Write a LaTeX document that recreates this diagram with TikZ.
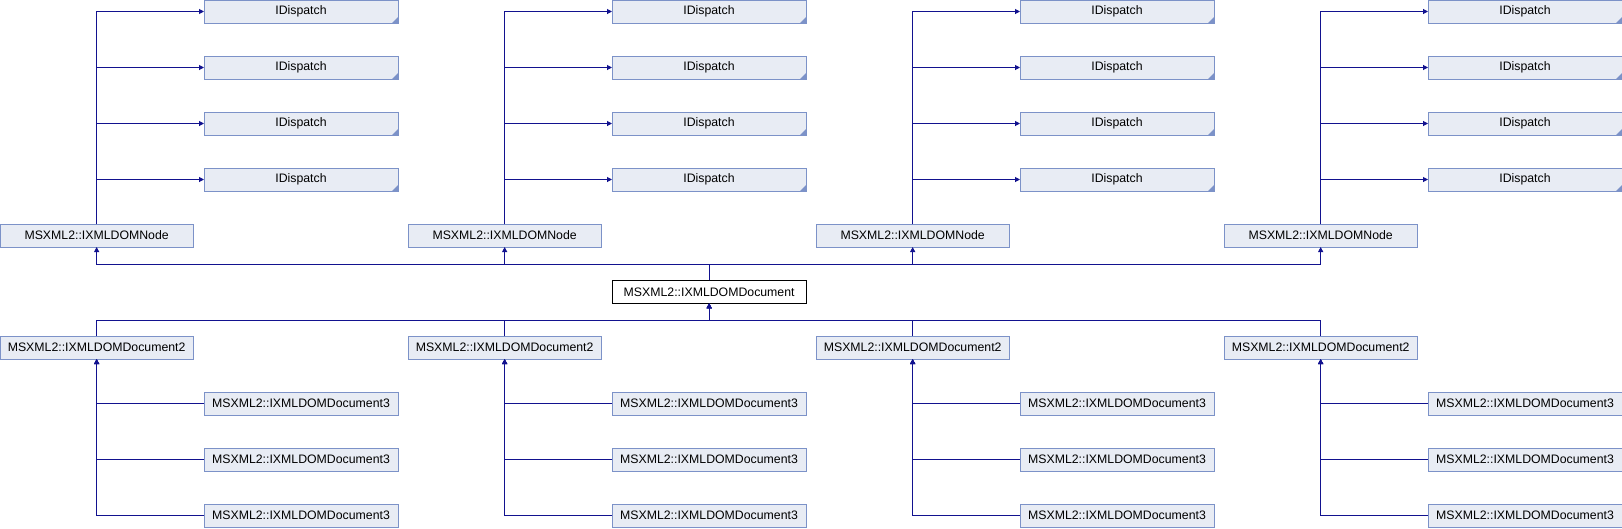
\documentclass[tikz,border=0pt]{standalone}
\usepackage{fontspec}
\setmainfont{Liberation Sans}
\usetikzlibrary{arrows.meta}
\definecolor{boxfill}{HTML}{E8ECF4}
\definecolor{boxline}{HTML}{7C92C8}
\definecolor{edgecol}{HTML}{12128F}
\tikzset{
  box/.style={draw=boxline, fill=boxfill, line width=1pt, rectangle, inner sep=0pt, outer sep=0pt,
    minimum width=194pt, minimum height=23pt, anchor=north west,
    font=\fontsize{12.3pt}{14pt}\selectfont, text=black},
  mainbox/.style={box, draw=black, fill=white, minimum width=193.7pt},
  arr/.style={draw=edgecol, line width=1pt, -{Triangle[length=5pt,width=5pt]}},
}
\begin{document}
\begin{tikzpicture}[x=1pt,y=-1pt]
\useasboundingbox (0,0) rectangle (1622,528);
\node[mainbox] (main) at (612.3,280.3) {MSXML2::IXMLDOMDocument};
\coordinate (busT) at (0,264.3);
\coordinate (busB) at (0,320.3);
\foreach \i/\c in {1/0,2/408,3/816,4/1224}{
  \node[box, minimum width=193.3pt] (n\i) at (\c,224) {MSXML2::IXMLDOMNode};
  \node[box, minimum width=193.3pt] (d\i) at (\c,336) {MSXML2::IXMLDOMDocument2};
  \foreach \j/\y in {1/0,2/56,3/112,4/168}{
    \node[box] (id\i-\j) at ({\c+204},\y) {IDispatch};
    \fill[boxline] (id\i-\j.south east) -- ++(-6pt,0pt) -- ++(6pt,6pt) -- cycle;
    \draw[arr] (n\i.north) |- (id\i-\j.west);
  }
  \foreach \j/\y in {1/392,2/448,3/504}{
    \node[box] (e\i-\j) at ({\c+204},\y) {MSXML2::IXMLDOMDocument3};
    \draw[arr] (e\i-\j.west) -| (d\i.south);
  }
  \draw[arr] (main.north) -- (main.north |- busT) -| (n\i.south);
  \draw[arr] (d\i.north) -- (d\i.north |- busB) -| (main.south);
}
\end{tikzpicture}
\end{document}
